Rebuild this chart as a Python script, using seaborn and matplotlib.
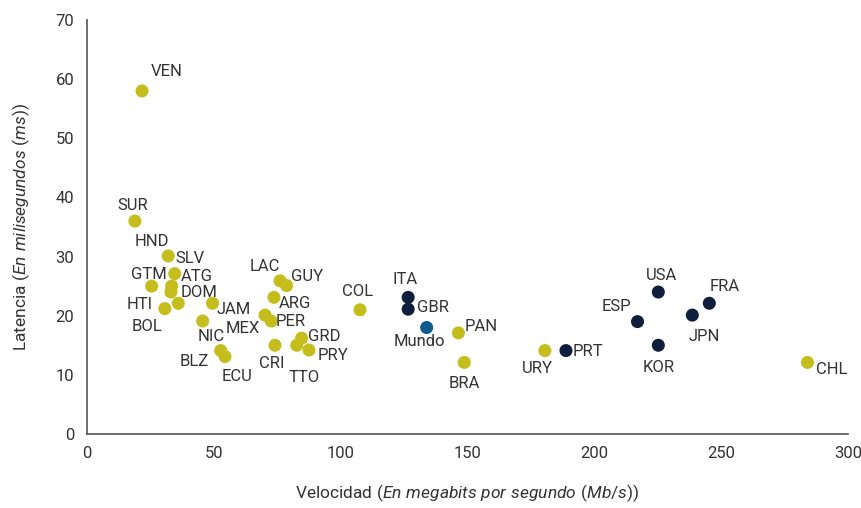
import matplotlib
matplotlib.use("Agg")
import pandas as pd
import matplotlib.pyplot as plt
import seaborn as sns

# Datos
paises = ["VEN", "SUR", "HND", "SLV", "GTM", "ATG", "DOM", "HTI", "BOL", "JAM",
          "NIC", "MEX", "BLZ", "ECU", "LAC", "GUY", "ARG", "PER", "CRI", "GRD",
          "TTO", "PRY", "COL", "ITA", "GBR", "Mundo", "PAN", "BRA", "URY", "PRT",
          "USA", "ESP", "KOR", "JPN", "FRA", "CHL"]
velocidad = [21.7, 18.9, 32.0, 34.6, 25.5, 33.4, 33.1, 36.0, 30.7, 49.5,
             45.6, 70.2, 52.7, 54.4, 76.1, 78.7, 73.7, 72.6, 74.1, 84.6,
             82.7, 87.5, 107.6, 126.6, 126.6, 133.9, 146.4, 148.7, 180.5, 188.8,
             225.2, 217.0, 225.2, 238.6, 245.3, 284.0]
latencia = [58.0, 36.0, 30.1, 27.1, 25.0, 25.0, 24.0, 22.1, 21.2, 22.1,
            19.1, 20.1, 14.1, 13.1, 25.9, 25.1, 23.1, 19.1, 15.0, 16.2,
            15.0, 14.2, 21.0, 23.1, 21.1, 18.0, 17.1, 12.1, 14.1, 14.1,
            24.0, 19.0, 15.0, 20.1, 22.1, 12.1]
ocde = ["ITA", "GBR", "PRT", "USA", "ESP", "KOR", "JPN", "FRA"]
grupo = ["OCDE" if p in ocde else ("Mundo" if p == "Mundo" else "ALC") for p in paises]

# desplazamiento de cada etiqueta respecto a su punto (pixeles)
offsets = {
    "VEN": (25, 19), "SUR": (-2, 16), "HND": (-16, 14), "SLV": (15, 15),
    "GTM": (-3, 12), "ATG": (25, 10), "DOM": (28, 0), "HTI": (-39, -1),
    "BOL": (-18, -18), "JAM": (21, -6), "NIC": (9, -15), "MEX": (-22, -13),
    "BLZ": (-26, -11), "ECU": (12, -20), "LAC": (-15, 14), "GUY": (20, 9),
    "ARG": (21, -6), "PER": (20, 0), "CRI": (-3, -18), "GRD": (23, 2),
    "TTO": (7, -32), "PRY": (24, -6), "COL": (-2, 18), "ITA": (-3, 18),
    "GBR": (25, 2), "Mundo": (-7, -14), "PAN": (23, 6), "BRA": (0, -21),
    "URY": (-8, -18), "PRT": (22, -1), "USA": (3, 17), "ESP": (-21, 15),
    "KOR": (0, -22), "JPN": (12, -21), "FRA": (15, 17), "CHL": (24, -7),
}

df = pd.DataFrame({"pais": paises, "velocidad": velocidad,
                   "latencia": latencia, "grupo": grupo})
colores = {"ALC": "#c4bd1c", "OCDE": "#0e1e3c", "Mundo": "#0f5b8d"}

sns.set_style("white")
plt.rcParams["font.family"] = ["Roboto", "DejaVu Sans"]
plt.rcParams["mathtext.fontset"] = "custom"
plt.rcParams["mathtext.rm"] = "Roboto"
plt.rcParams["mathtext.it"] = "Roboto:italic"
texto = "#333333"

fig = plt.figure(figsize=(8.61, 5.08), dpi=100)
ax = fig.add_axes([0.101, 0.1457, 0.884, 0.815])

sns.scatterplot(data=df, x="velocidad", y="latencia", hue="grupo", palette=colores,
                s=88, edgecolor="none", legend=False, ax=ax, zorder=3)

for p, x, y in zip(paises, velocidad, latencia):
    dx, dy = offsets[p]
    ax.annotate(p, (x, y), xytext=(dx, dy), textcoords="offset pixels",
                ha="center", va="center", fontsize=12, color=texto)

ax.set_xlim(0, 300)
ax.set_ylim(0, 70)
ax.set_xticks(range(0, 301, 50))
ax.set_yticks(range(0, 71, 10))
ax.tick_params(axis="both", direction="out", length=5, width=1, color="#555555",
               labelsize=12, labelcolor=texto, pad=4)
sns.despine(ax=ax)
for s in ["left", "bottom"]:
    ax.spines[s].set_color("#555555")
    ax.spines[s].set_linewidth(1.2)

ax.set_xlabel(r"Velocidad ($\it{En\ megabits\ por\ segundo\ (Mb/s)}$)",
              fontsize=12.5, color=texto, labelpad=15)
ax.set_ylabel(r"Latencia ($\it{En\ milisegundos\ (ms)}$)",
              fontsize=12.5, color=texto, labelpad=17)

fig.savefig("out.png", dpi=100)
